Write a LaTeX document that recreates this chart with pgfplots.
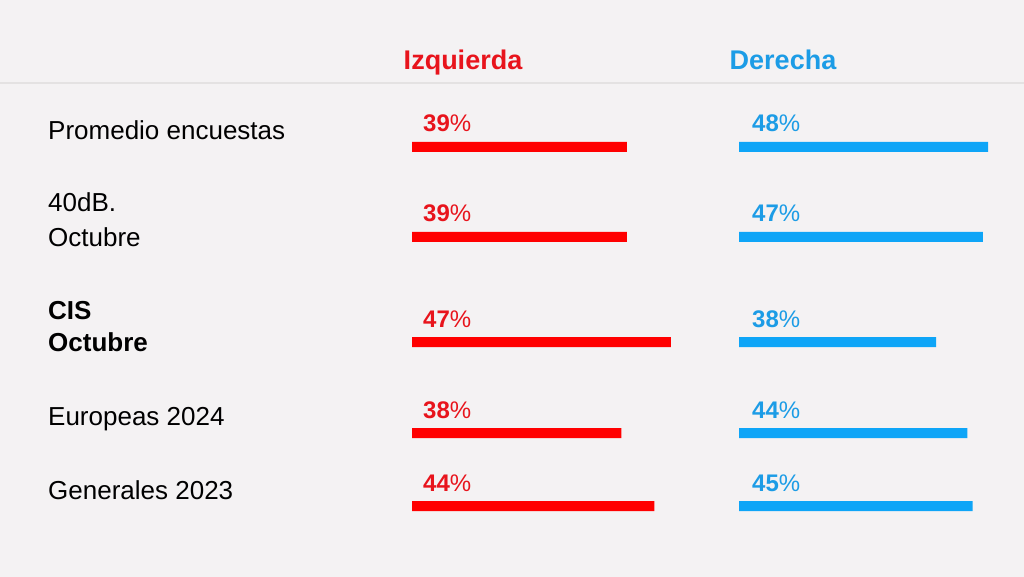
\documentclass[border=0pt]{standalone}
\usepackage{pgfplots}
\pgfplotsset{compat=1.18}
\usepackage{pgfplotstable}
\usepackage{fontspec}
\setmainfont{Liberation Sans}

\definecolor{fondo}{HTML}{F4F2F3}
\definecolor{linea}{HTML}{E4E2E2}
\definecolor{rojobar}{HTML}{FF0000}
\definecolor{rojotxt}{HTML}{E8141C}
\definecolor{azulbar}{HTML}{0EA5F7}
\definecolor{azultxt}{HTML}{1C9CE6}

% y = vertical position of each row (px from top, negative)
\pgfplotstableread{
y izq der
-147 39 48
-237 39 47
-342 47 38
-433 38 44
-506 44 45
}\datos

\newcommand{\fs}{\fontsize{26}{30}\selectfont}
\newcommand{\fp}{\fontsize{24}{28}\selectfont}

\begin{document}
\begin{tikzpicture}[x=1pt,y=1pt, every node/.style={inner sep=0pt}]
  \fill[fondo] (0,0) rectangle (1024,-577);
  \draw[linea, line width=2pt] (0,-83) -- (1024,-83);

  \node[anchor=base, text=rojotxt, font=\bfseries\fontsize{27}{31}\selectfont] at (463,-70) {Izquierda};
  \node[anchor=base, text=azultxt, font=\bfseries\fontsize{27}{31}\selectfont] at (783,-70) {Derecha};

  \node[anchor=base west, font=\fs] at (48,-140) {Promedio encuestas};
  \node[anchor=base west, font=\fs] at (48,-212) {40dB.};
  \node[anchor=base west, font=\fs] at (48,-247) {Octubre};
  \node[anchor=base west, font=\bfseries\fs] at (48,-319) {CIS};
  \node[anchor=base west, font=\bfseries\fs] at (48,-351) {Octubre};
  \node[anchor=base west, font=\fs] at (48,-425) {Europeas 2024};
  \node[anchor=base west, font=\fs] at (48,-499) {Generales 2023};

  \begin{axis}[
    at={(412pt,-577pt)}, anchor=south west,
    scale only axis, width=551pt, height=577pt,
    xmin=0, xmax=100, ymin=-577, ymax=0,
    hide axis, clip=false
  ]
    \addplot[xbar, bar width=10pt, bar shift=0pt, fill=rojobar, draw=none]
      table[x=izq, y=y] {\datos};
    \addplot[draw=none, mark=none, point meta=explicit symbolic,
      nodes near coords={\textbf{\pgfplotspointmeta}\%},
      nodes near coords style={anchor=base west, inner sep=0pt, xshift=11pt, yshift=15pt,
        text=rojotxt, font=\fp}]
      table[x expr=0, y=y, meta=izq] {\datos};
  \end{axis}

  \begin{axis}[
    at={(739pt,-577pt)}, anchor=south west,
    scale only axis, width=519pt, height=577pt,
    xmin=0, xmax=100, ymin=-577, ymax=0,
    hide axis, clip=false
  ]
    \addplot[xbar, bar width=10pt, bar shift=0pt, fill=azulbar, draw=none]
      table[x=der, y=y] {\datos};
    \addplot[draw=none, mark=none, point meta=explicit symbolic,
      nodes near coords={\textbf{\pgfplotspointmeta}\%},
      nodes near coords style={anchor=base west, inner sep=0pt, xshift=13pt, yshift=15pt,
        text=azultxt, font=\fp}]
      table[x expr=0, y=y, meta=der] {\datos};
  \end{axis}

  \pgfresetboundingbox
  \useasboundingbox (0,0) rectangle (1024,-577);
\end{tikzpicture}
\end{document}
